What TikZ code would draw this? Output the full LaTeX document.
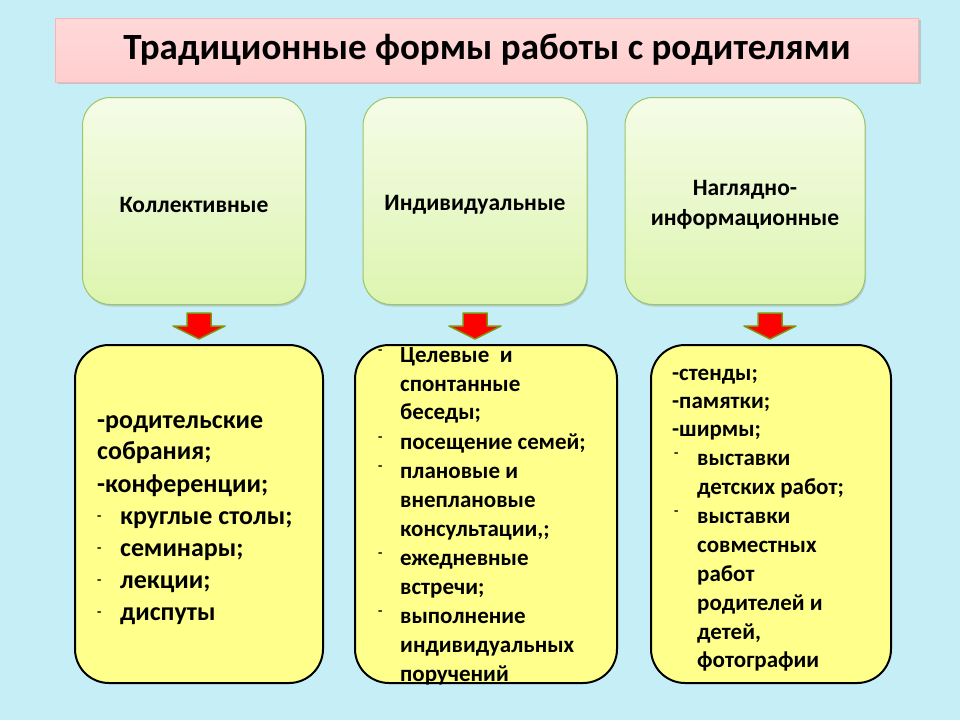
\documentclass[tikz,border=0pt]{standalone}
\usepackage{fontspec}
\setmainfont{Carlito}
\usetikzlibrary{shadows}
\definecolor{bg}{HTML}{C6EEF6}
\definecolor{yel}{HTML}{FFFF8C}
\definecolor{grn}{HTML}{DDF5B0}
\definecolor{grnb}{HTML}{9CC46A}
\tikzset{
 top/.style={draw=grnb, line width=1pt, rounded corners=28pt, top color=white!70!grn, bottom color=grn, drop shadow={shadow xshift=1pt,shadow yshift=-2pt,opacity=0.3}},
 toplbl/.style={font=\bfseries\fontsize{23.5}{30}\selectfont, align=center},
 box/.style={draw=black, line width=2pt, rounded corners=34pt, fill=yel},
 arr/.style={draw=olive!80!green, line width=1.5pt, fill=red, line join=round},
 l1/.style={anchor=base west, inner sep=0, font=\bfseries\fontsize{26}{30}\selectfont},
 l2/.style={anchor=base west, inner sep=0, font=\bfseries\fontsize{23}{26}\selectfont},
 bl/.style={anchor=base west, inner sep=0, font=\bfseries\fontsize{14}{14}\selectfont, yshift=4pt}
}
\begin{document}
\begin{tikzpicture}[x=1pt,y=-1pt]
\fill[bg] (0,0) rectangle (960,720);
\node[draw=red!30, line width=0.8pt, top color=white!40!pink, bottom color=pink!70!red!40, drop shadow={opacity=0.3}, minimum width=863pt, minimum height=64pt, font=\bfseries\fontsize{37}{40}\selectfont] (title) at (487,50) {Традиционные формы работы с родителями};
\node[top, minimum width=223pt, minimum height=207pt] (t1) at (194,201) {};
\node[top, minimum width=224pt, minimum height=207pt] (t2) at (475,201) {};
\node[top, minimum width=240pt, minimum height=207pt] (t3) at (745,201) {};
\node[toplbl] (k1) at (194,205) {Коллективные};
\node[toplbl] (k2) at (475,205) {Индивидуальные};
\node[toplbl] (k3) at (745,205) {Наглядно-\\информационные};
\foreach \n/\x in {a1/199,a2/475,a3/770}
 \draw[arr] (\x-12,313) -- (\x+12,313) -- (\x+12,326) -- (\x+26,326) -- (\x,339) -- (\x-26,326) -- (\x-12,326) -- cycle;
\node[box, minimum width=248pt, minimum height=338pt] (b1) at (199,514) {};
\node[box, minimum width=262pt, minimum height=338pt] (b2) at (486,514) {};
\node[box, minimum width=240pt, minimum height=338pt] (b3) at (771,514) {};
% box 1
\node[l1] (p1) at (97,428) {-родительские};
\node[l1] (p2) at (97,459) {собрания;};
\node[l1] (p3) at (97,492) {-конференции;};
\foreach \i/\y/\t in {4/524/круглые столы;,5/556/семинары;,6/588/лекции;,7/620/диспуты}{
 \node[bl] (q\i) at (97,\y) {-};
 \node[l1] (p\i) at (120,\y) {\t};}
% box 2
\foreach \i/\y/\t in {1/362/{Целевые\ \ и},2/391/спонтанные,3/419/беседы;,4/449/посещение семей;,5/478/плановые и,6/507/внеплановые,7/536/{консультации,;},8/565/ежедневные,9/594/встречи;,10/623/выполнение,11/652/индивидуальных,12/681/поручений}
 \node[l2] (r\i) at (400,\y) {\t};
\foreach \i/\y in {1/358,4/445,5/474,8/561,10/619}
 \node[bl] (s\i) at (378,\y) {-};
% box 3
\node[l2] (u1) at (672,380) {-стенды;};
\node[l2] (u2) at (672,408) {-памятки;};
\node[l2] (u3) at (672,436) {-ширмы;};
\foreach \i/\y/\t in {4/465/выставки,5/494/детских работ;,6/523/выставки,7/552/совместных,8/581/работ,9/610/родителей и,10/639/{детей,},11/667/фотографии}
 \node[l2] (u\i) at (697,\y) {\t};
\foreach \i/\y in {4/461,6/519}
 \node[bl] (v\i) at (674,\y) {-};
\end{tikzpicture}
\end{document}
